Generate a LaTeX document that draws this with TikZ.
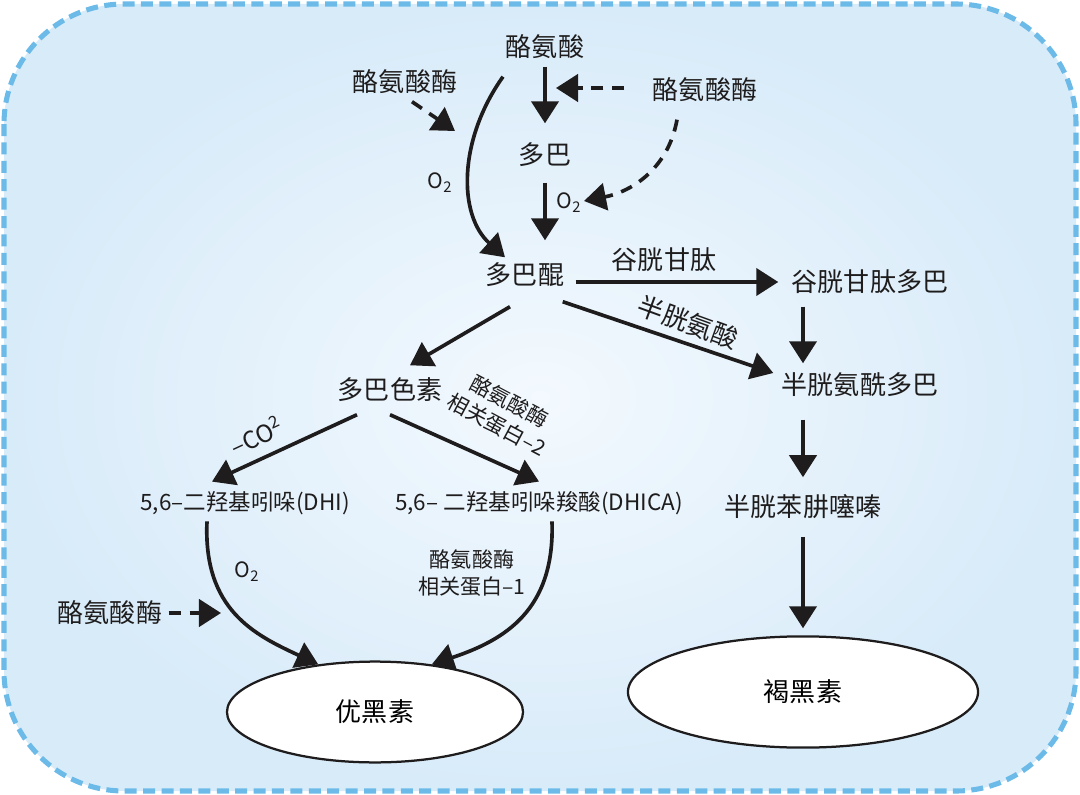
\documentclass[tikz,border=0pt]{standalone}
\usepackage{fontspec}
\setmainfont{Noto Sans CJK SC}
\usepackage{tikz}
\usetikzlibrary{arrows.meta,shapes.geometric,calc}
\definecolor{ink}{RGB}{30,28,28}
\definecolor{bgdark}{RGB}{216,235,249}
\definecolor{bglight}{RGB}{243,249,254}
\definecolor{rim}{RGB}{108,186,232}

\begin{document}
\begin{tikzpicture}[x=0.025cm,y=-0.025cm,
		cmpd/.style={text=ink,inner sep=1pt,font=\fontsize{18.5}{22}\selectfont},
		chem/.style={text=ink,inner sep=1pt,font=\fontsize{16}{20}\selectfont},
		note/.style={text=ink,inner sep=1pt,align=center,font=\fontsize{15}{19}\selectfont},
		oxy/.style={text=ink,inner sep=1pt,font=\fontsize{15}{17}\selectfont},
		flow/.style={draw=ink,line width=2.6pt,-{Triangle[length=0.55cm,width=0.68cm]}},
		enz/.style={flow,dash pattern=on 0.3cm off 0.22cm},
		pool/.style={ellipse,draw=ink,line width=1.6pt,fill=white,inner sep=0pt,font=\fontsize{18.5}{22}\selectfont}]
		\useasboundingbox (0,0) rectangle (1080,795);
		\shade[rounded corners=3cm,inner color=bglight,outer color=bgdark] (4,4) rectangle (1076,791);
		\draw[rim,line width=3.6pt,dash pattern=on 0.3cm off 0.16cm,rounded corners=3cm] (4,4) rectangle (1076,791);
		\node[cmpd] (tyr) at (545,47) {酪氨酸};
		\node[cmpd] (enzA) at (405,82) {酪氨酸酶};
		\node[cmpd] (enzB) at (705,90) {酪氨酸酶};
		\node[cmpd] (dopa) at (545,155) {多巴};
		\node[cmpd] (dq) at (525,275) {多巴醌};
		\node[cmpd] (gsd) at (870,282) {谷胱甘肽多巴};
		\node[cmpd] (cysd) at (860,385) {半胱氨酰多巴};
		\node[cmpd] (dc) at (390,390) {多巴色素};
		\node[chem] (dhi) at (245,503) {5,6–二羟基吲哚(DHI)};
		\node[chem] (dhica) at (539,503) {5,6– 二羟基吲哚羧酸(DHICA)};
		\node[cmpd] (bz) at (803,507) {半胱苯肼噻嗪};
		\node[cmpd] (enzC) at (110,613) {酪氨酸酶};
		\node[pool,minimum width=7.4cm,minimum height=2.52cm] (eu) at (375,712) {优黑素};
		\node[pool,minimum width=8.75cm,minimum height=2.78cm] (pheo) at (803,692) {褐黑素};
		\node[oxy] (oxA) at (440,183) {O\textsubscript{2}};
		\node[oxy] (oxB) at (569,203) {O\textsubscript{2}};
		\node[oxy] (oxC) at (247,572) {O\textsubscript{2}};
		\node[cmpd] (gsh) at (664,260) {谷胱甘肽};
		\node[cmpd,rotate=-20] (cys) at (688,322) {半胱氨酸};
		\node[oxy,font=\fontsize{17}{19}\selectfont,rotate=25] (co) at (256,436) {–CO\textsuperscript{2}};
		\node[note,rotate=-28] (trp2) at (503,413) {酪氨酸酶\\相关蛋白–2};
		\node[note] (trp1) at (472,573) {酪氨酸酶\\相关蛋白–1};
		\coordinate (hitA) at (556,88);
		\coordinate (hitB) at (455,131);
		\coordinate (hitC) at (584,201);
		\coordinate (hitD) at (221,613);
		\draw[flow] ($(tyr.south)+(0,6)$) -- ($(dopa.north)+(0,-18)$);
		\draw[flow] ($(dopa.south)+(0,14)$) -- ($(dq.north)+(20,-21)$);
		\draw[flow] ($(tyr.south)+(-42,16)$) .. controls (458,140) and (458,215) .. ($(dq.north)+(-20,-4)$);
		\draw[flow] ($(dq.east)+(10,7)$) -- ($(gsd.west)+(-12,0)$);
		\draw[flow] ($(dq.south east)+(-3,13)$) -- ($(cysd.west)+(-7,-12)$);
		\draw[flow] ($(bz |- gsd.south)+(0,11)$) -- ($(bz |- cysd.north)+(0,-8)$);
		\draw[flow] ($(bz |- cysd.south)+(0,21)$) -- ($(bz.north)+(0,-16)$);
		\draw[flow] ($(bz.south)+(0,16)$) -- ($(pheo.north)+(0,-7)$);
		\draw[flow] ($(dq.south)+(-15,18)$) -- ($(dc.north)+(20,-11)$);
		\draw[flow] ($(dc.south)+(-33,11)$) -- ($(dhi.north)+(-33,-8)$);
		\draw[flow] ($(dc.south)+(0,11)$) -- ($(dhica.north)+(0,-8)$);
		\draw[flow] ($(dhi.south)+(-38,5)$) .. controls (203,610) and (255,635) .. (eu.140);
		\draw[flow] ($(dhica.south)+(13,5)$) .. controls (555,610) and (505,640) .. (eu.40);
		\draw[enz] ($(enzB.west)+(-27,-2)$) -- (hitA);
		\draw[enz] ($(enzA.south)+(7,6)$) -- (hitB);
		\draw[enz] ($(enzB.south)+(-28,16)$) .. controls (668,170) and (630,192) .. (hitC);
		\draw[enz] ($(enzC.east)+(5,0)$) -- (hitD);
	\end{tikzpicture}
\end{document}
